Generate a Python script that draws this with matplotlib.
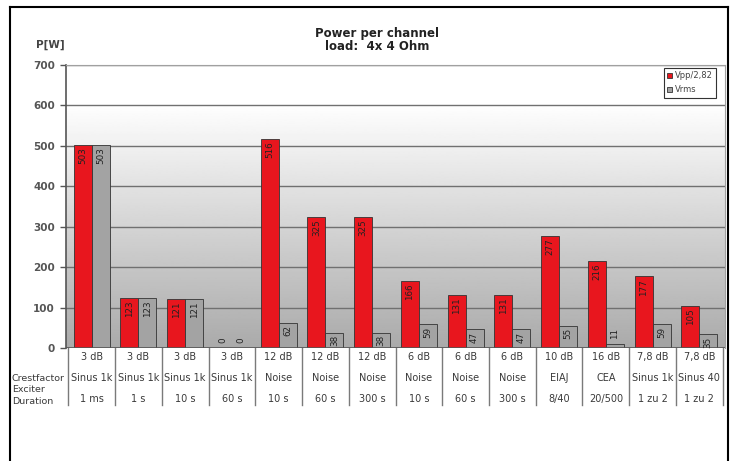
import numpy as np
import matplotlib.pyplot as plt
from matplotlib.lines import Line2D

# data
crest = ['3 dB', '3 dB', '3 dB', '3 dB', '12 dB', '12 dB', '12 dB', '6 dB', '6 dB', '6 dB',
         '10 dB', '16 dB', '7,8 dB', '7,8 dB']
exciter = ['Sinus 1k', 'Sinus 1k', 'Sinus 1k', 'Sinus 1k', 'Noise', 'Noise', 'Noise', 'Noise',
           'Noise', 'Noise', 'EIAJ', 'CEA', 'Sinus 1k', 'Sinus 40']
duration = ['1 ms', '1 s', '10 s', '60 s', '10 s', '60 s', '300 s', '10 s', '60 s', '300 s',
            '8/40', '20/500', '1 zu 2', '1 zu 2']
vpp = [503, 123, 121, 0, 516, 325, 325, 166, 131, 131, 277, 216, 177, 105]
vrms = [503, 123, 121, 0, 62, 38, 38, 59, 47, 47, 55, 11, 59, 35]
row_names = ['Crestfactor', 'Exciter', 'Duration']
yticks = [0, 100, 200, 300, 400, 500, 600, 700]

RED = '#e8161e'
GRAY = '#a3a3a3'
TXT = '#3a3a3a'


def drawLabels(ax, xs, vals):
    for x, v in zip(xs, vals):
        if v < 30:  # small bars get the label above the bar
            ax.text(x, v + 12, str(v), rotation=90, ha='center', va='bottom',
                    fontsize=6.3, color='#222222', zorder=5)
        else:
            ax.text(x, v - 6, str(v), rotation=90, ha='center', va='top',
                    fontsize=6.3, color='#222222', zorder=5)


def main():
    fig = plt.figure(figsize=(7.39, 4.61), dpi=100)
    fig.patch.set_facecolor('white')
    ax = fig.add_axes([66/739, 1-348/461, 659/739, 283/461])

    n = len(vpp)
    x = np.arange(n)
    w = 0.385

    # gradient background of the plot area: white on top, gray at the bottom
    grad = np.clip(np.linspace(0.0, 1.15, 256), 0, 1).reshape(-1, 1)
    ax.imshow(grad, extent=(-0.55, n - 0.45, 0, 700), aspect='auto', cmap='gray',
              vmin=-2.0, vmax=1.0, origin='lower', zorder=0)

    ax.bar(x - w/2, vpp, w, color=RED, edgecolor='#333333', linewidth=0.6, zorder=3,
           label='Vpp/2,82')
    ax.bar(x + w/2, vrms, w, color=GRAY, edgecolor='#333333', linewidth=0.6, zorder=3,
           label='Vrms')
    drawLabels(ax, x - w/2, vpp)
    drawLabels(ax, x + w/2, vrms)

    ax.set_xlim(-0.55, n - 0.45)
    ax.set_ylim(0, 700)
    ax.set_yticks(yticks)
    ax.set_yticklabels([str(t) for t in yticks], fontsize=7.5, fontweight='bold', color='#555555')
    ax.tick_params(axis='y', length=4, width=1, color='#555555', pad=4)
    ax.set_xticks([])
    for t in yticks[1:]:
        ax.axhline(t, color='#707070', linewidth=1, zorder=1)
    ax.axhline(0, color='#555555', linewidth=1.2, zorder=4)
    ax.spines['left'].set_color('#555555')
    ax.spines['left'].set_linewidth(1.2)
    for s in ['top', 'right']:
        ax.spines[s].set_color('#a0a0a0')
    ax.spines['bottom'].set_visible(False)

    # table under the chart
    trans = ax.get_xaxis_transform()
    rows_y = [-9/283, -30/283, -51/283]
    for i in range(n):
        for ry, vals in zip(rows_y, [crest, exciter, duration]):
            ax.text(x[i], ry, vals[i], transform=trans, ha='center', va='center',
                    fontsize=7, color=TXT)
    for b in np.arange(n + 1) - 0.5:
        ax.plot([b, b], [0, -57/283], transform=trans, color='#7a7a7a', linewidth=1,
                clip_on=False)

    fig.text(12/739, 1-378/461, row_names[0], fontsize=6.8, color=TXT, va='center')
    fig.text(12/739, 1-389/461, row_names[1], fontsize=6.8, color=TXT, va='center')
    fig.text(12/739, 1-401/461, row_names[2], fontsize=6.8, color=TXT, va='center')

    # titles
    fig.text(377/739, 1-33/461, 'Power per channel', ha='center', va='center',
             fontsize=8.5, fontweight='bold', color='#222222')
    fig.text(377/739, 1-46/461, 'load:  4x 4 Ohm', ha='center', va='center',
             fontsize=8.5, fontweight='bold', color='#222222')
    fig.text(50/739, 1-45/461, 'P[W]', ha='center', va='center',
             fontsize=7.5, fontweight='bold', color='#444444')

    leg = ax.legend(loc='upper right', bbox_to_anchor=(716/739, 1-68/461),
                    bbox_transform=fig.transFigure, fontsize=6, frameon=True, fancybox=False,
                    handlelength=0.6, handleheight=0.6, handletextpad=0.3, borderpad=0.4,
                    labelspacing=0.6, borderaxespad=0)
    leg.get_frame().set_edgecolor('#333333')
    leg.get_frame().set_linewidth(0.8)
    leg.get_frame().set_facecolor('white')
    leg.get_frame().set_alpha(1)
    for t in leg.get_texts():
        t.set_color('#444444')

    # outer frame
    fig.add_artist(Line2D([10/739, 10/739], [0, 1-7/461], color='black', linewidth=1.5))
    fig.add_artist(Line2D([10/739, 728/739], [1-7/461, 1-7/461], color='black', linewidth=1.5))
    fig.add_artist(Line2D([728/739, 728/739], [0, 1-7/461], color='black', linewidth=1.5))

    fig.savefig('out.png', dpi=100)


main()
